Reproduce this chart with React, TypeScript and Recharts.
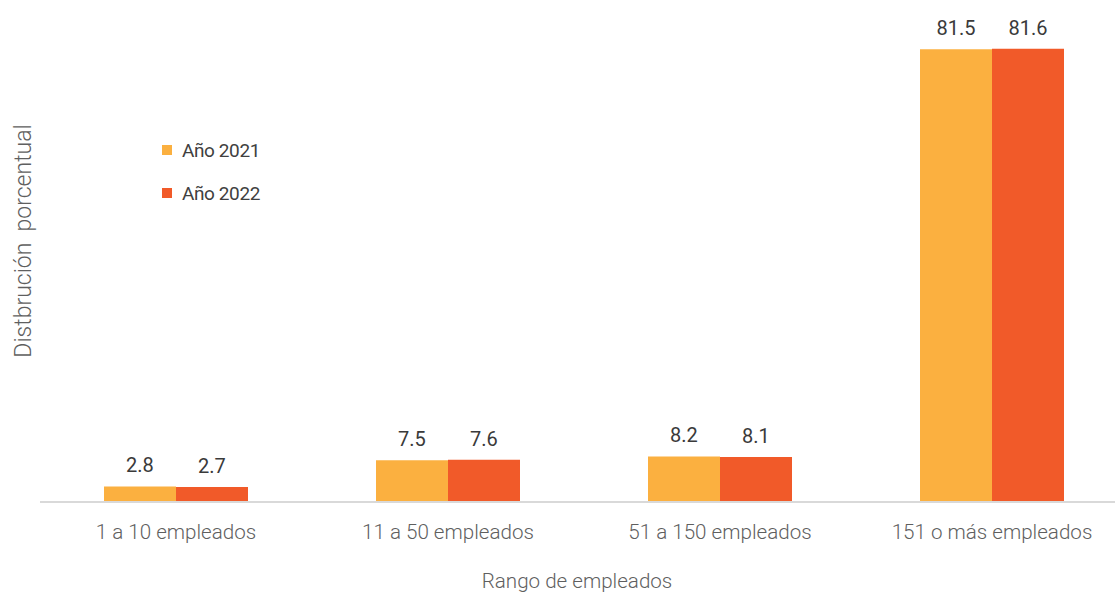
import React from 'react';
import { BarChart, Bar, XAxis, YAxis, LabelList, Customized } from 'recharts';

const categories = ['1 a 10 empleados', '11 a 50 empleados', '51 a 150 empleados', '151 o más empleados'];
const values2021 = [2.8, 7.5, 8.2, 81.5];
const values2022 = [2.7, 7.6, 8.1, 81.6];
const seriesNames = ['Año 2021', 'Año 2022'];
const seriesColors = ['#FBB040', '#F15A29'];
const xTitle = 'Rango de empleados';
const yTitle = 'Distbrución  porcentual';

const data = categories.map((c, i) => ({ category: c, y2021: values2021[i], y2022: values2022[i] }));

const FONT = 'Roboto, "Noto Sans", sans-serif';

const Overlay = () => (
  <g>
    {seriesNames.map((name, i) => (
      <g key={name}>
        <rect x={162} y={145 + i * 43} width={10} height={10} fill={seriesColors[i]} />
        <text x={182} y={157 + i * 43} fill="#404040" fontSize={19} fontFamily={FONT} letterSpacing={-0.4}>
          {name}
        </text>
      </g>
    ))}
    <text x={577} y={588} textAnchor="middle" fill="#5f5f5f" fontSize={20.6} fontWeight={300} fontFamily={FONT}>
      {xTitle}
    </text>
    <text
      x={31}
      y={241}
      transform="rotate(-90 31 241)"
      textAnchor="middle"
      fill="#5f5f5f"
      fontSize={23}
      fontWeight={300}
      fontFamily={FONT}
      style={{ whiteSpace: 'pre' }}
    >
      {yTitle}
    </text>
  </g>
);

export default function App() {
  return (
    <div style={{ position: 'absolute', left: 0, top: 0, width: 1115, height: 592, overflow: 'hidden', background: '#fff' }}>
      <BarChart
        width={1128}
        height={592}
        data={data}
        margin={{ top: 2, right: 0, bottom: 0, left: 40 }}
        barGap={0}
        barSize={72}
      >
        <XAxis
          dataKey="category"
          height={90}
          tickLine={false}
          tickSize={6}
          tickMargin={16}
          axisLine={{ stroke: '#d9d9d9', strokeWidth: 2 }}
          tick={{ fill: '#5f5f5f', fontSize: 20.6, fontWeight: 300, fontFamily: FONT }}
          interval={0}
        />
        <YAxis hide type="number" domain={[0, 90]} />
        <Bar dataKey="y2021" name={seriesNames[0]} fill={seriesColors[0]} isAnimationActive={false}>
          <LabelList dataKey="y2021" position="top" offset={14} fill="#3a3a3a" fontSize={20} fontWeight={400} fontFamily={FONT} />
        </Bar>
        <Bar dataKey="y2022" name={seriesNames[1]} fill={seriesColors[1]} isAnimationActive={false}>
          <LabelList dataKey="y2022" position="top" offset={14} fill="#3a3a3a" fontSize={20} fontWeight={400} fontFamily={FONT} />
        </Bar>
        <Customized component={Overlay} />
      </BarChart>
    </div>
  );
}
